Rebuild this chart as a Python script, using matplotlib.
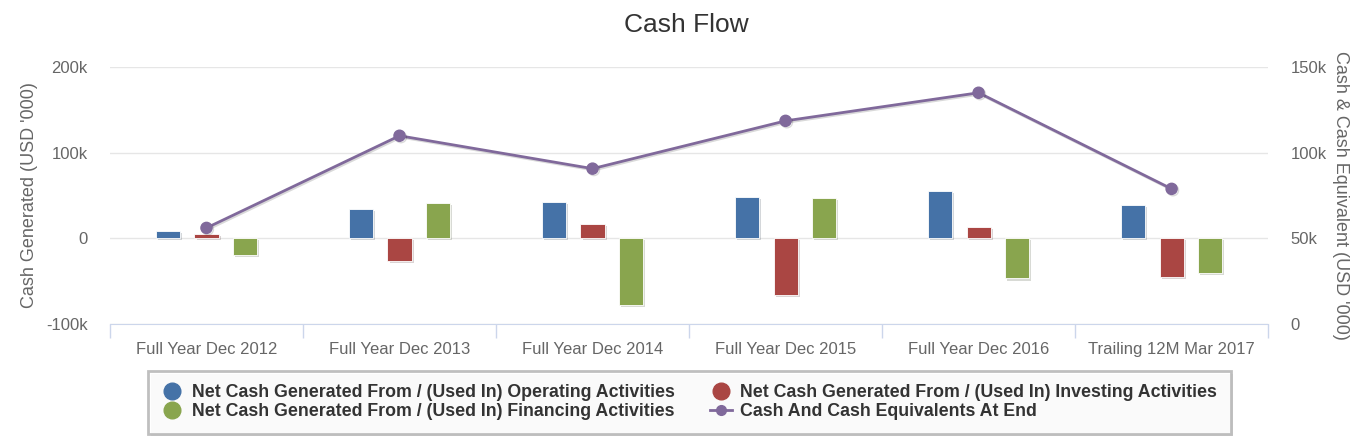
import numpy as np
import matplotlib.pyplot as plt
import matplotlib.patheffects as pe
from matplotlib.lines import Line2D

plt.rcParams['font.family'] = ['Liberation Sans', 'DejaVu Sans']

periods = ['Full Year Dec 2012', 'Full Year Dec 2013', 'Full Year Dec 2014',
           'Full Year Dec 2015', 'Full Year Dec 2016', 'Trailing 12M Mar 2017']
operating = [8, 34, 42, 48, 55, 39]        # USD '000 (k)
investing = [5, -27, 17, -66, 13, -45]
financing = [-20, 41, -78, 47, -47, -41]
cash_end = [56, 109.8, 90.6, 118.5, 134.9, 78.8]

c_op = '#4572A7'
c_inv = '#AA4643'
c_fin = '#89A54E'
c_cash = '#80699B'
axis_col = '#ccd6eb'
txt = '#666666'

fig = plt.figure(figsize=(13.68, 4.43), dpi=100)
ax = fig.add_axes([0.0804, 0.269, 0.8466, 0.580])
ax2 = ax.twinx()

x = np.arange(len(periods))
w = 0.125
shadow = [pe.SimplePatchShadow(offset=(1.5, -1.5), alpha=0.18), pe.Normal()]
for off, vals, col in [(-0.2, operating, c_op), (0, investing, c_inv), (0.2, financing, c_fin)]:
    bars = ax.bar(x + off, vals, width=w, color=col, edgecolor='white', linewidth=0.6, zorder=3)
    for b in bars:
        b.set_path_effects(shadow)

ax2.plot(x, cash_end, color=c_cash, lw=2, marker='o', ms=8, zorder=4,
         path_effects=[pe.SimpleLineShadow(offset=(1, -1), alpha=0.15), pe.Normal()])

ax.set_xlim(-0.5, len(periods) - 0.5)
ax.set_ylim(-100, 200)
ax2.set_ylim(0, 150)
ax.set_yticks([-100, 0, 100, 200])
ax.set_yticklabels(['-100k', '0', '100k', '200k'])
ax2.set_yticks([0, 50, 100, 150])
ax2.set_yticklabels(['0', '50k', '100k', '150k'])
ax.grid(axis='y', color='#e6e6e6', lw=1, zorder=0)
ax.set_axisbelow(True)

ax.set_xticks(x)
ax.set_xticklabels(periods)
ax.set_xticks(np.arange(-0.5, len(periods)), minor=True)
ax.tick_params(axis='x', which='major', length=0, pad=13, labelsize=12, labelcolor=txt)
ax.tick_params(axis='x', which='minor', length=10, color=axis_col, width=1)
ax.tick_params(axis='y', length=0, pad=16, labelsize=12, labelcolor=txt)
ax2.tick_params(axis='y', length=0, pad=16, labelsize=12, labelcolor=txt)

for a in (ax, ax2):
    for s in ('top', 'left', 'right'):
        a.spines[s].set_visible(False)
    a.spines['bottom'].set_color(axis_col)
ax2.spines['bottom'].set_visible(False)

ax.set_ylabel("Cash Generated (USD '000)", color=txt, fontsize=13, labelpad=6)
ax2.set_ylabel("Cash & Cash Equivalent (USD '000)", color=txt, fontsize=13,
               rotation=270, labelpad=16)

fig.text(0.502, 0.944, 'Cash Flow', ha='center', va='center', fontsize=19, color='#333333')

handles = [
    Line2D([], [], ls='none', marker='o', ms=12, color=c_op),
    Line2D([], [], ls='none', marker='o', ms=12, color=c_fin),
    Line2D([], [], ls='none', marker='o', ms=12, color=c_inv),
    Line2D([], [], color=c_cash, lw=2, marker='o', ms=7),
]
labels = ['Net Cash Generated From / (Used In) Operating Activities',
          'Net Cash Generated From / (Used In) Financing Activities',
          'Net Cash Generated From / (Used In) Investing Activities',
          'Cash And Cash Equivalents At End']
leg = fig.legend(handles, labels, loc='center', bbox_to_anchor=(0.504, 0.092), ncol=2,
                 frameon=True, fancybox=False, shadow=False, handlelength=1.2,
                 handletextpad=0.5, columnspacing=2.0, labelspacing=0.12,
                 borderpad=0.75, prop={'weight': 'bold', 'size': 12.8})
frame = leg.get_frame()
frame.set_edgecolor('#b0b0b0')
frame.set_linewidth(2)
frame.set_path_effects([pe.SimplePatchShadow(offset=(2, -2), alpha=0.12), pe.Normal()])
for t in leg.get_texts():
    t.set_color('#333333')

fig.savefig('out.png', dpi=100)
